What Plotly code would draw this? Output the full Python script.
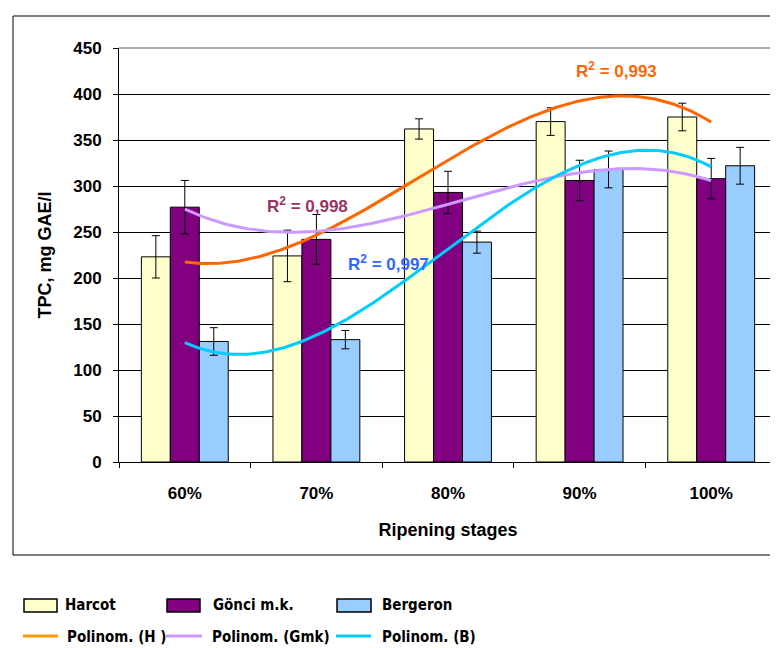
import numpy as np
import plotly.graph_objects as go

categories = ["60%", "70%", "80%", "90%", "100%"]
series_names = ["Harcot", "Gönci m.k.", "Bergeron"]
harcot = [223, 224, 362, 370, 375]
harcot_err = [23, 28, 11, 15, 15]
gonci = [277, 242, 293, 306, 308]
gonci_err = [29, 27, 23, 22, 22]
bergeron = [131, 133, 239, 318, 322]
bergeron_err = [15, 10, 12, 20, 20]
trend_names = ["Polinom. (H )", "Polinom. (Gmk)", "Polinom. (B)"]
r2_values = ["0,993", "0,998", "0,997"]
y_ticks = [0, 50, 100, 150, 200, 250, 300, 350, 400, 450]

bar_colors = ["#FFFFCC", "#800080", "#99CCFF"]
line_colors = ["#FF6600", "#CC99FF", "#00CCFF"]
legend_line_colors = ["#FF9900", "#CC99FF", "#00CCFF"]
r2_colors = ["#FF6600", "#993366", "#3366FF"]
FONT = "Arial, Liberation Sans, sans-serif"
LEG_FONT = "DejaVu Sans Condensed, Arial, sans-serif"

OFF = 8  # page body margin
W, H = 770, 640
ML, MR, MT, MB = 111, 1, 40, 186
PW, PH = W - ML - MR, H - MT - MB


def px2x(px):
    return (px - OFF - ML) / PW


def px2y(py):
    return (H - MB - (py - OFF)) / PH


xs = list(range(len(categories)))
fig = go.Figure()
for name, vals, errs, col in zip(series_names, [harcot, gonci, bergeron],
                                 [harcot_err, gonci_err, bergeron_err], bar_colors):
    fig.add_trace(go.Bar(
        x=xs, y=vals, name=name,
        marker=dict(color=col, line=dict(color="black", width=1)),
        error_y=dict(type="data", array=errs, color="black", thickness=1, width=4),
        showlegend=False,
    ))

xfine = np.linspace(0, len(categories) - 1, 200)
for name, vals, col in zip(trend_names, [harcot, gonci, bergeron], line_colors):
    coef = np.polyfit(xs, vals, 3)
    fig.add_trace(go.Scatter(
        x=xfine, y=np.polyval(coef, xfine), mode="lines", name=name,
        line=dict(color=col, width=3), showlegend=False, hoverinfo="skip",
    ))

# R² labels (data coordinates)
r2_pos = [(3.28, 426), (0.93, 279), (1.55, 216)]
annotations = []
for (ax, ay), txt, col in zip(r2_pos, r2_values, r2_colors):
    annotations.append(dict(
        x=ax, y=ay, xref="x", yref="y", text="R<sup>2</sup> = " + txt,
        showarrow=False, font=dict(family=FONT, size=17, color=col, weight="bold"),
    ))

shapes = [
    # outer frame
    dict(type="rect", xref="paper", yref="paper",
         x0=px2x(13), x1=px2x(800), y0=px2y(555), y1=px2y(16),
         line=dict(color="black", width=1), layer="below"),
    # plot-area border top and right
    dict(type="line", xref="paper", yref="paper", x0=0, x1=1, y0=1, y1=1,
         line=dict(color="#909090", width=1.5), layer="above"),
    dict(type="line", xref="paper", yref="paper", x0=1, x1=1, y0=0, y1=1,
         line=dict(color="#909090", width=1.5), layer="above"),
]

# manual legend
box_x = [(24, 57), (167, 200), (337, 371)]
box_text_x = [63, 211, 380]
line_x = [(23, 58), (166, 202), (336, 371)]
line_text_x = [65, 210, 380]
for (x0, x1), tx, name, col in zip(box_x, box_text_x, series_names, bar_colors):
    shapes.append(dict(type="rect", xref="paper", yref="paper",
                       x0=px2x(x0), x1=px2x(x1), y0=px2y(612), y1=px2y(599),
                       fillcolor=col, line=dict(color="black", width=1.5)))
    annotations.append(dict(x=px2x(tx), y=px2y(605), xref="paper", yref="paper",
                            xanchor="left", yanchor="middle", text=name, showarrow=False,
                            font=dict(family=LEG_FONT, size=15, color="black", weight="bold")))
for (x0, x1), tx, name, col in zip(line_x, line_text_x, trend_names, legend_line_colors):
    shapes.append(dict(type="line", xref="paper", yref="paper",
                       x0=px2x(x0), x1=px2x(x1), y0=px2y(636), y1=px2y(636),
                       line=dict(color=col, width=3)))
    annotations.append(dict(x=px2x(tx), y=px2y(637), xref="paper", yref="paper",
                            xanchor="left", yanchor="middle", text=name, showarrow=False,
                            font=dict(family=LEG_FONT, size=15, color="black", weight="bold")))

fig.update_layout(
    width=W, height=H,
    margin=dict(l=ML, r=MR, t=MT, b=MB, pad=0),
    paper_bgcolor="white", plot_bgcolor="white",
    barmode="group", bargap=0.34, bargroupgap=0,
    font=dict(family=FONT, color="black"),
    shapes=shapes, annotations=annotations,
    xaxis=dict(
        range=[-0.5, len(categories) - 0.5],
        tickmode="array", tickvals=xs, ticktext=categories, ticks="",
        ticklabelstandoff=16,
        tickfont=dict(family=FONT, size=17, color="black", weight="bold"),
        showline=True, linecolor="black", linewidth=1, showgrid=False, zeroline=False,
        minor=dict(tickmode="array", tickvals=[i - 0.5 for i in range(len(categories) + 1)],
                   ticks="outside", ticklen=5, tickcolor="black", tickwidth=1, showgrid=False),
        title=dict(text="Ripening stages", standoff=20,
                   font=dict(family=FONT, size=18, color="black", weight="bold")),
    ),
    yaxis=dict(
        range=[0, 450], tickmode="array", tickvals=y_ticks,
        ticks="outside", ticklen=5, tickcolor="black",
        ticklabelstandoff=8,
        tickfont=dict(family=FONT, size=17, color="black", weight="bold"),
        showline=True, linecolor="black", linewidth=1,
        showgrid=True, gridcolor="#000000", gridwidth=1, zeroline=False,
        title=dict(text="TPC, mg GAE/l", standoff=16,
                   font=dict(family=FONT, size=18, color="black", weight="bold")),
    ),
)

fig.write_html("out.html")
